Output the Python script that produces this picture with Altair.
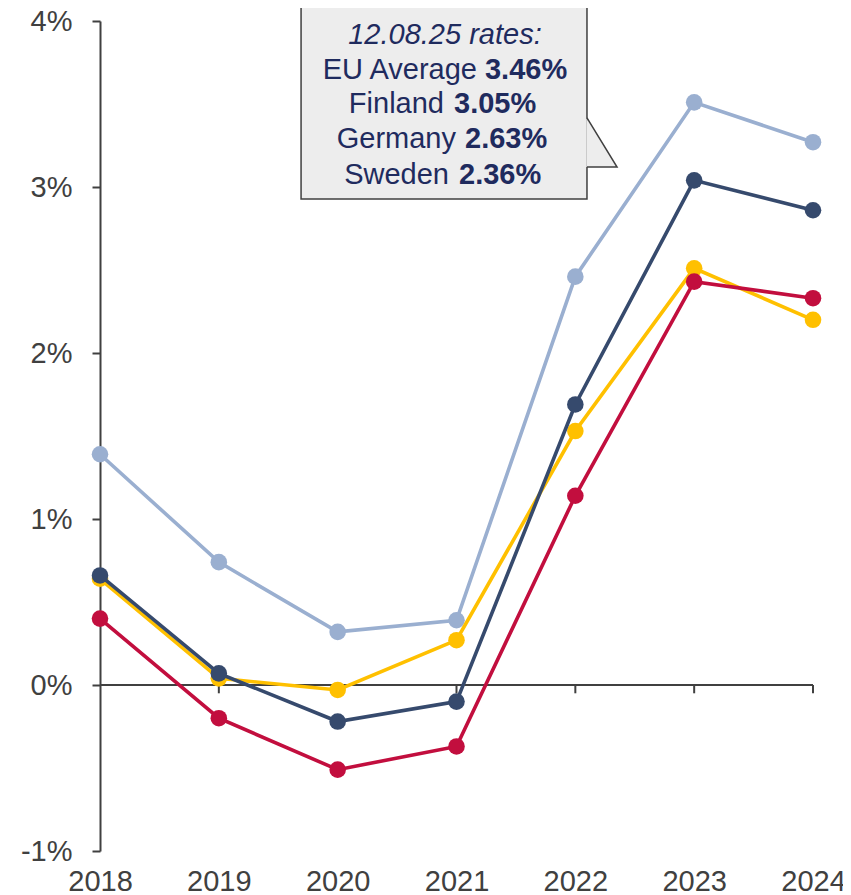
import altair as alt
import pandas as pd

years = [2018, 2019, 2020, 2021, 2022, 2023, 2024]
eu_average = [1.39, 0.74, 0.32, 0.39, 2.46, 3.51, 3.27]
finland = [0.66, 0.07, -0.22, -0.10, 1.69, 3.04, 2.86]
germany = [0.64, 0.04, -0.03, 0.27, 1.53, 2.51, 2.20]
sweden = [0.40, -0.20, -0.51, -0.37, 1.14, 2.43, 2.33]

series_names = ["EU Average", "Germany", "Sweden", "Finland"]
series_values = [eu_average, germany, sweden, finland]
series_colors = ["#9AAFD0", "#FFC000", "#C20E3E", "#364A6D"]

y_ticks = [-1, 0, 1, 2, 3, 4]

note_title = "12.08.25 rates:"
note_names = ["EU Average", "Finland", "Germany", "Sweden"]
note_rates = ["3.46%", "3.05%", "2.63%", "2.36%"]

AXIS_COLOR = "#404040"
TEXT_NAVY = "#1F2B5E"
FONT = "Liberation Sans"

x_scale = alt.Scale(domain=[2018, 2024], nice=False, zero=False)
y_scale = alt.Scale(domain=[-1, 4], nice=False, zero=False)

# base axis layer
axis_df = pd.DataFrame({"year": years, "value": [0] * len(years)})
base = alt.Chart(axis_df).mark_point(opacity=0).encode(
    x=alt.X("year:Q", scale=x_scale, title=None,
            axis=alt.Axis(values=years, format="d", domain=False, ticks=False, tickSize=0,
                          grid=False, labelFontSize=29, labelColor=AXIS_COLOR, labelFont=FONT,
                          labelPadding=16, labelFlush=False)),
    y=alt.Y("value:Q", scale=y_scale, title=None,
            axis=alt.Axis(values=y_ticks, labelExpr="datum.value + '%'", grid=False,
                          domainColor=AXIS_COLOR, domainWidth=2, tickColor=AXIS_COLOR,
                          tickWidth=2, tickSize=8, labelPadding=20, labelFontSize=29,
                          labelColor=AXIS_COLOR, labelFont=FONT)),
)

zero_line = alt.Chart(pd.DataFrame({"a": [0]})).mark_rule(color=AXIS_COLOR, strokeWidth=2).encode(
    x=alt.datum(2018, scale=x_scale), x2=alt.datum(2024), y=alt.datum(0, scale=y_scale)
)
tick_df = pd.DataFrame({"year": years[1:], "y0": [0] * 6, "y1": [-0.05] * 6})
year_ticks = alt.Chart(tick_df).mark_rule(color=AXIS_COLOR, strokeWidth=2).encode(
    x=alt.X("year:Q", scale=x_scale), y=alt.Y("y0:Q", scale=y_scale), y2="y1:Q"
)

layers = [base, zero_line, year_ticks]
for name, vals, col in zip(series_names, series_values, series_colors):
    df = pd.DataFrame({"year": years, "value": vals, "series": name})
    line = alt.Chart(df).mark_line(color=col, strokeWidth=3.6).encode(
        x=alt.X("year:Q", scale=x_scale), y=alt.Y("value:Q", scale=y_scale)
    )
    pts = alt.Chart(df).mark_circle(color=col, size=275, opacity=1).encode(
        x=alt.X("year:Q", scale=x_scale), y=alt.Y("value:Q", scale=y_scale)
    )
    layers += [line, pts]

# callout box (in data coordinates)
box_df = pd.DataFrame({"x0": [2019.692], "x1": [2022.098], "y0": [2.928], "y1": [4.090]})
box = alt.Chart(box_df).mark_rect(fill="#EDEDED", stroke=AXIS_COLOR, strokeWidth=1.5).encode(
    x=alt.X("x0:Q", scale=x_scale), x2="x1:Q", y=alt.Y("y0:Q", scale=y_scale), y2="y1:Q"
)
tri_df = pd.DataFrame({"x": [2022.092, 2022.351], "top": [3.416, 3.120], "bot": [3.120, 3.120]})
tri = alt.Chart(tri_df).mark_area(color="#EDEDED", opacity=1).encode(
    x=alt.X("x:Q", scale=x_scale), y=alt.Y("top:Q", scale=y_scale), y2="bot:Q"
)
ptr_df = pd.DataFrame({"x": [2022.098, 2022.351, 2022.098], "y": [3.416, 3.120, 3.120], "o": [0, 1, 2]})
ptr = alt.Chart(ptr_df).mark_line(color=AXIS_COLOR, strokeWidth=1.5).encode(
    x=alt.X("x:Q", scale=x_scale), y=alt.Y("y:Q", scale=y_scale), order="o:Q"
)

title_df = pd.DataFrame({"x": [2020.903], "y": [3.8614], "t": [note_title]})
title_txt = alt.Chart(title_df).mark_text(font=FONT, fontSize=29, fontStyle="italic", color=TEXT_NAVY,
                                          align="center", baseline="alphabetic").encode(
    x=alt.X("x:Q", scale=x_scale), y=alt.Y("y:Q", scale=y_scale), text="t:N"
)
line_y = [3.6506, 3.4458, 3.2349, 3.0181]
name_x = [2021.1725, 2020.8948, 2020.9958, 2020.937]
rate_x = [2021.2398, 2020.979, 2021.0716, 2021.0211]
names_df = pd.DataFrame({"x": name_x, "y": line_y, "t": note_names})
rates_df = pd.DataFrame({"x": rate_x, "y": line_y, "t": note_rates})
names_txt = alt.Chart(names_df).mark_text(font=FONT, fontSize=29, color=TEXT_NAVY,
                                          align="right", baseline="alphabetic").encode(
    x=alt.X("x:Q", scale=x_scale), y=alt.Y("y:Q", scale=y_scale), text="t:N"
)
rates_txt = alt.Chart(rates_df).mark_text(font=FONT, fontSize=29, fontWeight="bold", color=TEXT_NAVY,
                                          align="left", baseline="alphabetic").encode(
    x=alt.X("x:Q", scale=x_scale), y=alt.Y("y:Q", scale=y_scale), text="t:N"
)

layers += [box, tri, ptr, title_txt, names_txt, rates_txt]

chart = alt.layer(*layers).properties(
    width=713, height=830,
    padding={"left": 92, "top": 13, "right": 30, "bottom": 40},
    autosize=alt.AutoSizeParams(type="none"),
    background="white",
    view=alt.ViewBackground(stroke="transparent", strokeWidth=0),
).configure_view(stroke="transparent", strokeOpacity=0, strokeWidth=0)

chart.save("out.html", embed_options={"renderer": "svg", "actions": False})
